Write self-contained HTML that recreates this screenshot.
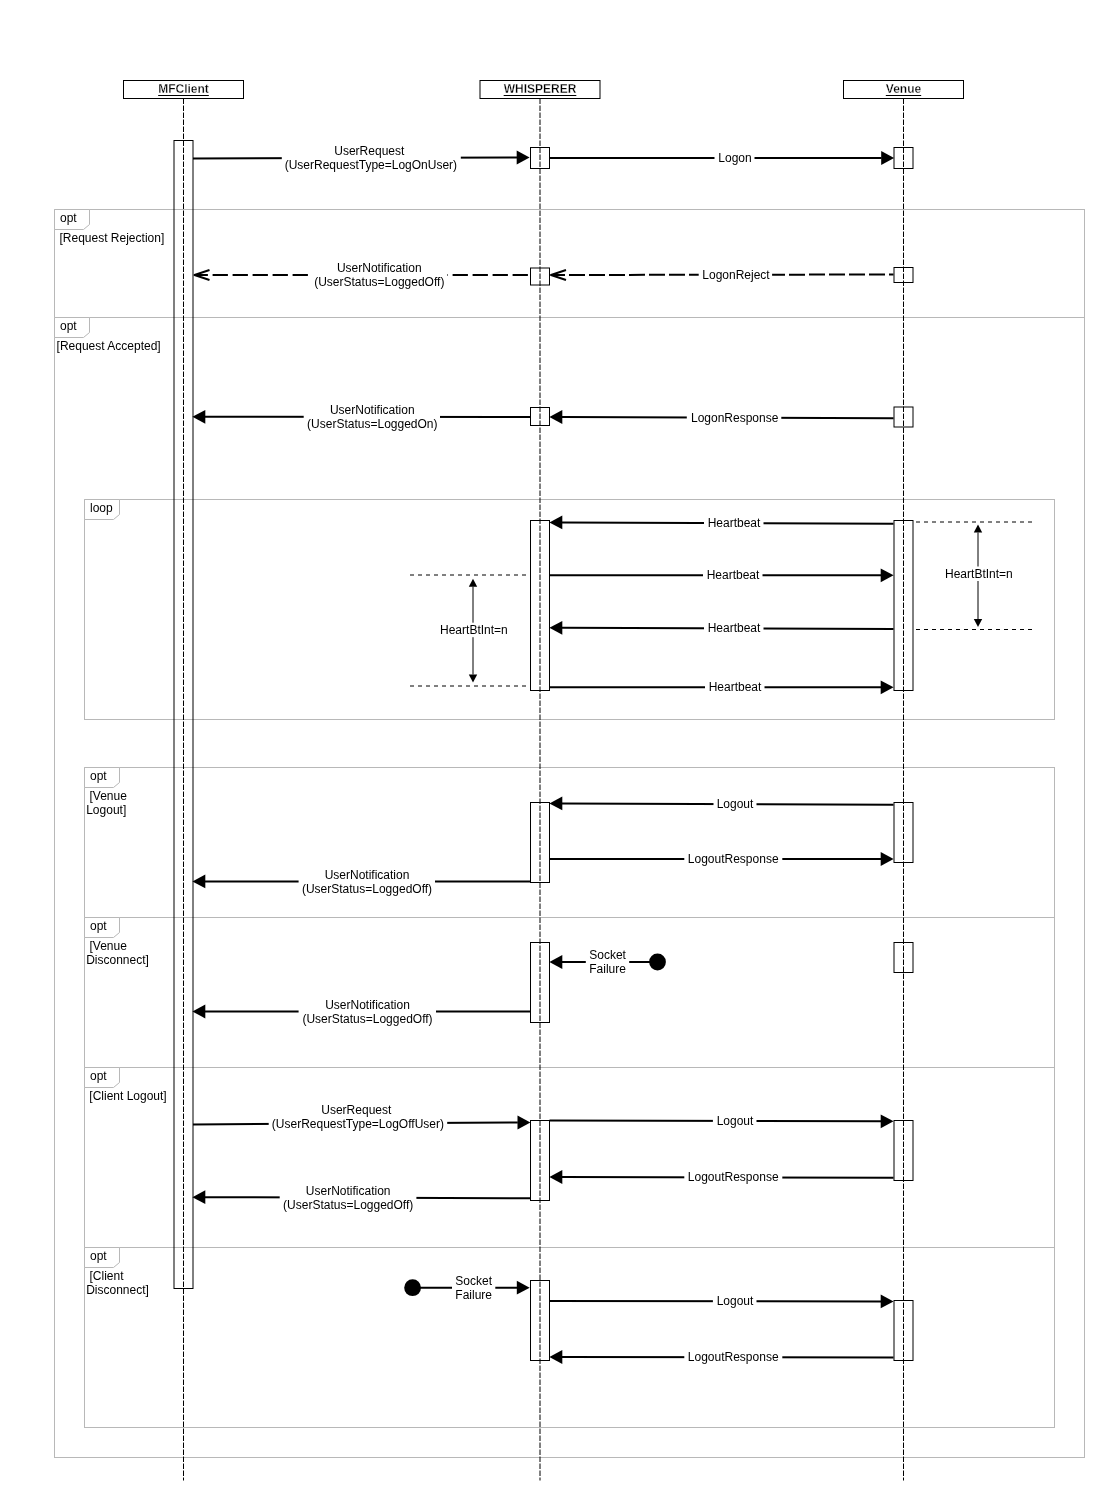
<!DOCTYPE html>
<html><head><meta charset="utf-8"><title>Sequence</title>
<style>
html,body{margin:0;padding:0;background:#fff;}
body{width:1106px;height:1500px;overflow:hidden;}
svg{display:block;will-change:transform;}
.t{font-family:"Liberation Sans", sans-serif;font-size:12px;fill:#000;}
.b{font-family:"Liberation Sans", sans-serif;font-size:12px;font-weight:bold;fill:#000;stroke:#fff;stroke-width:0.3px;}
</style></head><body>
<svg width="1106" height="1500" viewBox="0 0 1106 1500">
<rect width="1106" height="1500" fill="#fff"/>
<rect x="54.5" y="209.5" width="1030.0" height="108.0" fill="none" stroke="#b8b8b8"/>
<path d="M54.5 209.5H89.5V224.5L83.5 229.5H54.5Z" fill="#fff" stroke="#b8b8b8"/>
<text x="60.0" y="221.7" class="t">opt</text>
<rect x="54.5" y="317.5" width="1030.0" height="1140.0" fill="none" stroke="#b8b8b8"/>
<path d="M54.5 317.5H89.5V332.5L83.5 337.5H54.5Z" fill="#fff" stroke="#b8b8b8"/>
<text x="60.0" y="329.7" class="t">opt</text>
<rect x="84.5" y="499.5" width="970.0" height="220.0" fill="none" stroke="#b8b8b8"/>
<path d="M84.5 499.5H119.5V514.5L113.5 519.5H84.5Z" fill="#fff" stroke="#b8b8b8"/>
<text x="90.0" y="511.7" class="t">loop</text>
<rect x="84.5" y="767.5" width="970.0" height="150.0" fill="none" stroke="#b8b8b8"/>
<path d="M84.5 767.5H119.5V782.5L113.5 787.5H84.5Z" fill="#fff" stroke="#b8b8b8"/>
<text x="90.0" y="779.7" class="t">opt</text>
<rect x="84.5" y="917.5" width="970.0" height="150.0" fill="none" stroke="#b8b8b8"/>
<path d="M84.5 917.5H119.5V932.5L113.5 937.5H84.5Z" fill="#fff" stroke="#b8b8b8"/>
<text x="90.0" y="929.7" class="t">opt</text>
<rect x="84.5" y="1067.5" width="970.0" height="180.0" fill="none" stroke="#b8b8b8"/>
<path d="M84.5 1067.5H119.5V1082.5L113.5 1087.5H84.5Z" fill="#fff" stroke="#b8b8b8"/>
<text x="90.0" y="1079.7" class="t">opt</text>
<rect x="84.5" y="1247.5" width="970.0" height="180.0" fill="none" stroke="#b8b8b8"/>
<path d="M84.5 1247.5H119.5V1262.5L113.5 1267.5H84.5Z" fill="#fff" stroke="#b8b8b8"/>
<text x="90.0" y="1259.7" class="t">opt</text>
<g class="t">
<text x="59.5" y="241.8">[Request Rejection]</text>
<text x="56.6" y="349.6">[Request Accepted]</text>
<text x="86.2" y="799.5" xml:space="preserve"> [Venue</text>
<text x="86.2" y="813.9">Logout]</text>
<text x="86.2" y="949.5" xml:space="preserve"> [Venue</text>
<text x="86.2" y="963.9">Disconnect]</text>
<text x="86.2" y="1279.5" xml:space="preserve"> [Client</text>
<text x="86.2" y="1293.9">Disconnect]</text>
<text x="89.3" y="1099.6">[Client Logout]</text>
</g>
<line x1="183.5" y1="98.5" x2="183.5" y2="1480.5" stroke="#000" stroke-dasharray="5.5 1.5"/>
<line x1="540" y1="98.5" x2="540" y2="1480.5" stroke="#000" stroke-dasharray="5.5 1.5"/>
<line x1="903.5" y1="98.5" x2="903.5" y2="1480.5" stroke="#000" stroke-dasharray="5.5 1.5"/>
<rect x="123.5" y="80.5" width="120.0" height="18" fill="#fff" stroke="#000"/>
<text x="183.5" y="93.1" class="b" text-anchor="middle">MFClient</text>
<line x1="158.17000000000002" y1="95.5" x2="208.82999999999998" y2="95.5" stroke="#000"/>
<rect x="480" y="80.5" width="120" height="18" fill="#fff" stroke="#000"/>
<text x="540.0" y="93.1" class="b" text-anchor="middle">WHISPERER</text>
<line x1="503.665" y1="95.5" x2="576.335" y2="95.5" stroke="#000"/>
<rect x="843.5" y="80.5" width="120.0" height="18" fill="#fff" stroke="#000"/>
<text x="903.5" y="93.1" class="b" text-anchor="middle">Venue</text>
<line x1="885.825" y1="95.5" x2="921.175" y2="95.5" stroke="#000"/>
<rect x="174" y="140.5" width="19" height="1148.0" fill="none" stroke="#000"/>
<rect x="530.5" y="147.5" width="19.0" height="21.0" fill="none" stroke="#000"/>
<rect x="530.5" y="268" width="19.0" height="17" fill="none" stroke="#000"/>
<rect x="530.5" y="407.5" width="19.0" height="18.0" fill="none" stroke="#000"/>
<rect x="530.5" y="520.5" width="19.0" height="170.0" fill="none" stroke="#000"/>
<rect x="530.5" y="802.5" width="19.0" height="80.0" fill="none" stroke="#000"/>
<rect x="530.5" y="942.5" width="19.0" height="80.0" fill="none" stroke="#000"/>
<rect x="530.5" y="1120.5" width="19.0" height="80.0" fill="none" stroke="#000"/>
<rect x="530.5" y="1280.5" width="19.0" height="80.0" fill="none" stroke="#000"/>
<rect x="894" y="147.5" width="19" height="21.0" fill="none" stroke="#000"/>
<rect x="894" y="267.5" width="19" height="15.0" fill="none" stroke="#000"/>
<rect x="894" y="407" width="19" height="20" fill="none" stroke="#000"/>
<rect x="894" y="520.5" width="19" height="170.0" fill="none" stroke="#000"/>
<rect x="894" y="802.5" width="19" height="60.0" fill="none" stroke="#000"/>
<rect x="894" y="942.5" width="19" height="30.0" fill="none" stroke="#000"/>
<rect x="894" y="1120.5" width="19" height="60.0" fill="none" stroke="#000"/>
<rect x="894" y="1300.5" width="19" height="60.0" fill="none" stroke="#000"/>
<line x1="193" y1="158.5" x2="517" y2="157.5" stroke="#000" stroke-width="2"/>
<path d="M529.6 157.5L516.7 150.6L516.7 164.4Z" fill="#000"/>
<rect x="281.8" y="143.0" width="179.0" height="30.0" fill="#fff"/>
<g text-anchor="middle" class="t">
<text x="369.3" y="155.0">UserRequest</text>
<text x="370.9" y="169.0">(UserRequestType=LogOnUser)</text>
</g>
<line x1="549.5" y1="158" x2="881.5" y2="158" stroke="#000" stroke-width="2"/>
<path d="M894.1 158L881.2 151.1L881.2 164.9Z" fill="#000"/>
<rect x="714.5" y="150.0" width="40.0" height="16.0" fill="#fff"/>
<g text-anchor="middle" class="t">
<text x="735.0" y="162.0">Logon</text>
</g>
<line x1="893.5" y1="274.5" x2="551" y2="275" stroke="#000" stroke-width="2" stroke-dasharray="16 4" stroke-dashoffset="11.5"/>
<path d="M566.0 270L551.0 275L566.0 280" fill="none" stroke="#000" stroke-width="2" stroke-linejoin="round"/>
<rect x="698.7" y="266.75" width="73.39999999999998" height="16.0" fill="#fff"/>
<g text-anchor="middle" class="t">
<text x="736.0" y="278.8">LogonReject</text>
</g>
<line x1="527.9" y1="275" x2="194.5" y2="275" stroke="#000" stroke-width="2" stroke-dasharray="15.3 4.7" stroke-dashoffset="0"/>
<path d="M209.5 270L194.5 275L209.5 280" fill="none" stroke="#000" stroke-width="2" stroke-linejoin="round"/>
<rect x="308.9" y="260.0" width="138.5" height="30.0" fill="#fff"/>
<g text-anchor="middle" class="t">
<text x="379.3" y="272.0">UserNotification</text>
<text x="379.3" y="286.0">(UserStatus=LoggedOff)</text>
</g>
<line x1="893.5" y1="418.2" x2="562" y2="417" stroke="#000" stroke-width="2"/>
<path d="M549.4 417L562.3 410.1L562.3 423.9Z" fill="#000"/>
<rect x="686.8" y="409.6" width="94.5" height="16.0" fill="#fff"/>
<g text-anchor="middle" class="t">
<text x="734.7" y="421.6">LogonResponse</text>
</g>
<line x1="530" y1="417" x2="205" y2="416.8" stroke="#000" stroke-width="2"/>
<path d="M192.4 416.8L205.3 409.90000000000003L205.3 423.7Z" fill="#000"/>
<rect x="303.7" y="401.9" width="136.3" height="30.0" fill="#fff"/>
<g text-anchor="middle" class="t">
<text x="372.3" y="413.9">UserNotification</text>
<text x="372.3" y="427.9">(UserStatus=LoggedOn)</text>
</g>
<line x1="893.5" y1="523.7" x2="562" y2="522.4" stroke="#000" stroke-width="2"/>
<path d="M549.4 522.4L562.3 515.5L562.3 529.3Z" fill="#000"/>
<rect x="704" y="515.05" width="59.5" height="16.0" fill="#fff"/>
<g text-anchor="middle" class="t">
<text x="734.0" y="527.0">Heartbeat</text>
</g>
<line x1="549.5" y1="575.3" x2="881" y2="575.3" stroke="#000" stroke-width="2"/>
<path d="M893.6 575.3L880.7 568.4L880.7 582.1999999999999Z" fill="#000"/>
<rect x="703" y="567.3" width="59.5" height="16.0" fill="#fff"/>
<g text-anchor="middle" class="t">
<text x="733.0" y="579.3">Heartbeat</text>
</g>
<line x1="893.5" y1="629" x2="562" y2="627.8" stroke="#000" stroke-width="2"/>
<path d="M549.4 627.8L562.3 620.9L562.3 634.6999999999999Z" fill="#000"/>
<rect x="704" y="620.4" width="59.5" height="16.0" fill="#fff"/>
<g text-anchor="middle" class="t">
<text x="734.0" y="632.4">Heartbeat</text>
</g>
<line x1="549.5" y1="687.3" x2="881" y2="687.3" stroke="#000" stroke-width="2"/>
<path d="M893.6 687.3L880.7 680.4L880.7 694.1999999999999Z" fill="#000"/>
<rect x="705" y="679.3" width="59.5" height="16.0" fill="#fff"/>
<g text-anchor="middle" class="t">
<text x="735.0" y="691.3">Heartbeat</text>
</g>
<line x1="893.5" y1="804.7" x2="562" y2="803.4" stroke="#000" stroke-width="2"/>
<path d="M549.4 803.4L562.3 796.5L562.3 810.3Z" fill="#000"/>
<rect x="713.5" y="796.05" width="43.0" height="16.0" fill="#fff"/>
<g text-anchor="middle" class="t">
<text x="735.0" y="808.0">Logout</text>
</g>
<line x1="549.5" y1="859" x2="881" y2="859" stroke="#000" stroke-width="2"/>
<path d="M893.6 859L880.7 852.1L880.7 865.9Z" fill="#000"/>
<rect x="684.3" y="851.0" width="98.0" height="16.0" fill="#fff"/>
<g text-anchor="middle" class="t">
<text x="733.2" y="863.0">LogoutResponse</text>
</g>
<line x1="530" y1="881.5" x2="205" y2="881.4" stroke="#000" stroke-width="2"/>
<path d="M192.4 881.4L205.3 874.5L205.3 888.3Z" fill="#000"/>
<rect x="298.6" y="866.45" width="136.39999999999998" height="30.0" fill="#fff"/>
<g text-anchor="middle" class="t">
<text x="367.0" y="878.5">UserNotification</text>
<text x="367.0" y="892.5">(UserStatus=LoggedOff)</text>
</g>
<circle cx="657.5" cy="962" r="8.4" fill="#000"/>
<line x1="650" y1="962" x2="562" y2="962" stroke="#000" stroke-width="2"/>
<path d="M549.4 962L562.3 955.1L562.3 968.9Z" fill="#000"/>
<rect x="585.8" y="947.0" width="43.40000000000009" height="30.0" fill="#fff"/>
<g text-anchor="middle" class="t">
<text x="607.6" y="959.0">Socket</text>
<text x="607.6" y="973.0">Failure</text>
</g>
<line x1="530" y1="1011.5" x2="205" y2="1011.5" stroke="#000" stroke-width="2"/>
<path d="M192.4 1011.5L205.3 1004.6L205.3 1018.4Z" fill="#000"/>
<rect x="298.6" y="996.5" width="137.39999999999998" height="30.0" fill="#fff"/>
<g text-anchor="middle" class="t">
<text x="367.5" y="1008.5">UserNotification</text>
<text x="367.5" y="1022.5">(UserStatus=LoggedOff)</text>
</g>
<line x1="193" y1="1124.5" x2="517.8" y2="1122.5" stroke="#000" stroke-width="2"/>
<path d="M530.4 1122.5L517.5 1115.6L517.5 1129.4Z" fill="#000"/>
<rect x="268.7" y="1101.9" width="178.5" height="30.0" fill="#fff"/>
<g text-anchor="middle" class="t">
<text x="356.3" y="1113.9">UserRequest</text>
<text x="357.9" y="1127.9">(UserRequestType=LogOffUser)</text>
</g>
<line x1="549.5" y1="1120.6" x2="881" y2="1121.3" stroke="#000" stroke-width="2"/>
<path d="M893.6 1121.3L880.7 1114.3999999999999L880.7 1128.2Z" fill="#000"/>
<rect x="712.9" y="1112.9499999999998" width="43.60000000000002" height="16.0" fill="#fff"/>
<g text-anchor="middle" class="t">
<text x="735.0" y="1124.9">Logout</text>
</g>
<line x1="893.5" y1="1177.7" x2="562" y2="1177" stroke="#000" stroke-width="2"/>
<path d="M549.4 1177L562.3 1170.1L562.3 1183.9Z" fill="#000"/>
<rect x="684.3" y="1169.35" width="98.0" height="16.0" fill="#fff"/>
<g text-anchor="middle" class="t">
<text x="733.2" y="1181.3">LogoutResponse</text>
</g>
<line x1="530" y1="1198.2" x2="205" y2="1197.2" stroke="#000" stroke-width="2"/>
<path d="M192.4 1197.2L205.3 1190.3L205.3 1204.1000000000001Z" fill="#000"/>
<rect x="279.7" y="1182.7" width="136.7" height="30.0" fill="#fff"/>
<g text-anchor="middle" class="t">
<text x="348.2" y="1194.7">UserNotification</text>
<text x="348.2" y="1208.7">(UserStatus=LoggedOff)</text>
</g>
<circle cx="412.6" cy="1287.7" r="8.4" fill="#000"/>
<line x1="412.6" y1="1287.7" x2="517.1" y2="1287.7" stroke="#000" stroke-width="2"/>
<path d="M529.7 1287.7L516.8000000000001 1280.8L516.8000000000001 1294.6000000000001Z" fill="#000"/>
<rect x="452" y="1272.7" width="43.30000000000001" height="30.0" fill="#fff"/>
<g text-anchor="middle" class="t">
<text x="473.7" y="1284.7">Socket</text>
<text x="473.7" y="1298.7">Failure</text>
</g>
<line x1="549.5" y1="1301.1" x2="881" y2="1301.4" stroke="#000" stroke-width="2"/>
<path d="M893.6 1301.4L880.7 1294.5L880.7 1308.3000000000002Z" fill="#000"/>
<rect x="712.9" y="1293.25" width="43.60000000000002" height="16.0" fill="#fff"/>
<g text-anchor="middle" class="t">
<text x="735.0" y="1305.2">Logout</text>
</g>
<line x1="893.5" y1="1357.5" x2="562" y2="1357" stroke="#000" stroke-width="2"/>
<path d="M549.4 1357L562.3 1350.1L562.3 1363.9Z" fill="#000"/>
<rect x="684.3" y="1349.25" width="98.0" height="16.0" fill="#fff"/>
<g text-anchor="middle" class="t">
<text x="733.2" y="1361.2">LogoutResponse</text>
</g>
<line x1="410" y1="575" x2="526" y2="575" stroke="#000" stroke-dasharray="4 4"/>
<line x1="410" y1="686" x2="526" y2="686" stroke="#000" stroke-dasharray="4 4"/>
<line x1="473" y1="586.7" x2="473" y2="622.7" stroke="#000"/>
<line x1="473" y1="637.2" x2="473" y2="674.5" stroke="#000"/>
<path d="M473 578.7L468.8 586.7L477.2 586.7Z" fill="#000"/>
<path d="M473 682.5L468.8 674.5L477.2 674.5Z" fill="#000"/>
<text x="473.9" y="633.7" class="t" text-anchor="middle">HeartBtInt=n</text>
<line x1="916" y1="522" x2="1033" y2="522" stroke="#000" stroke-dasharray="4 4"/>
<line x1="916" y1="629.5" x2="1033" y2="629.5" stroke="#000" stroke-dasharray="4 4"/>
<line x1="978" y1="532.5" x2="978" y2="566.5" stroke="#000"/>
<line x1="978" y1="581" x2="978" y2="619" stroke="#000"/>
<path d="M978 524.5L973.8 532.5L982.2 532.5Z" fill="#000"/>
<path d="M978 627L973.8 619L982.2 619Z" fill="#000"/>
<text x="978.9" y="577.8" class="t" text-anchor="middle">HeartBtInt=n</text>
</svg>
</body></html>
